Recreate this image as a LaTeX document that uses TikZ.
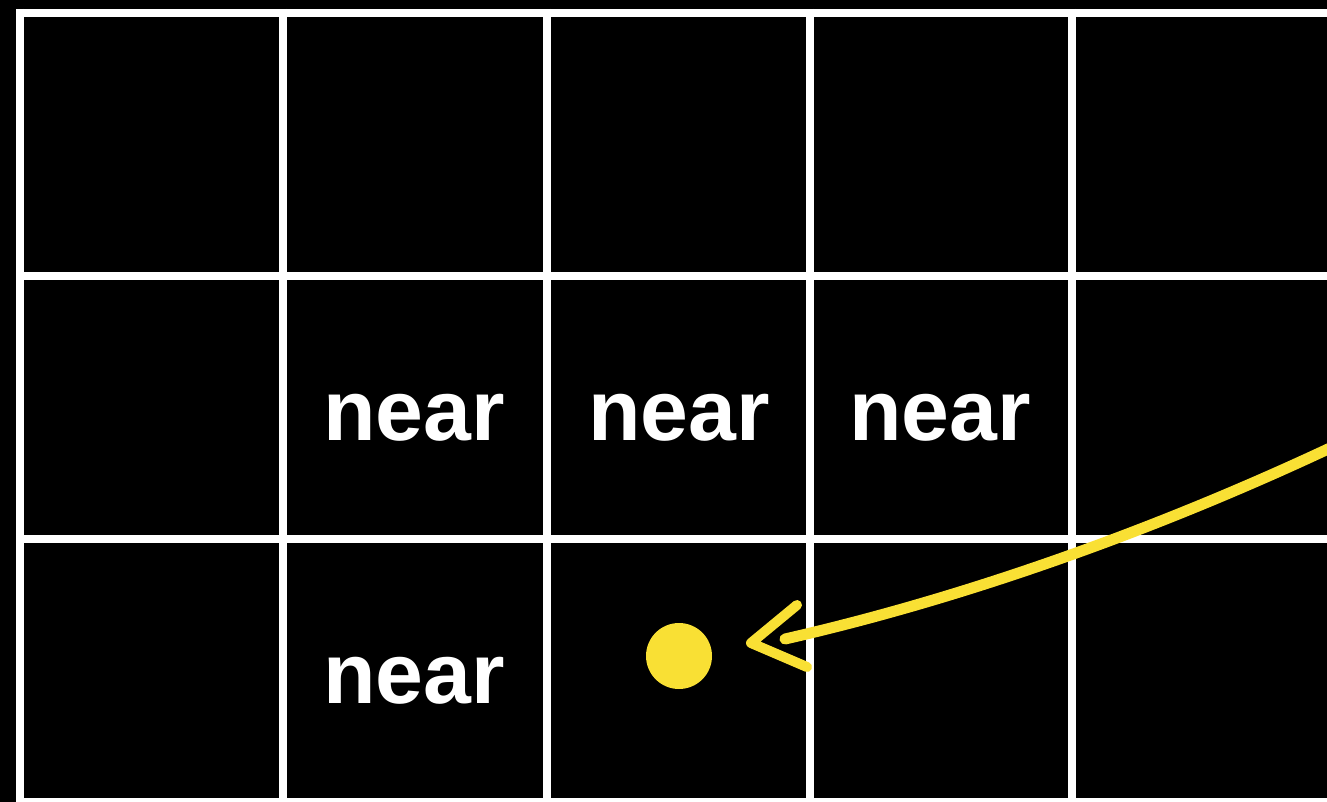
\documentclass[tikz,border=0pt]{standalone}
\usepackage{fontspec}
\setmainfont{Liberation Sans}
\definecolor{hly}{RGB}{249,224,52}
\tikzset{
  gridline/.style={white, line width=8pt},
  lbl/.style={text=white, font=\fontsize{86}{90}\selectfont\bfseries, anchor=base, inner sep=0pt},
  yel/.style={draw=hly, line width=11pt, line cap=round, line join=round},
}
\begin{document}
\begin{tikzpicture}[x=1pt,y=-1pt]
\fill[black] (0,0) rectangle (1327,802);
\useasboundingbox (0,0) rectangle (1327,802);
\begin{scope}
\clip (0,0) rectangle (1327,802);
\foreach \x in {20,283,547,810,1072,1335} \draw[gridline] (\x,9) -- (\x,806);
\foreach \y in {13,276,539,802} \draw[gridline] (16,\y) -- (1339,\y);
\node[lbl] (n1) at (414,440) {near};
\node[lbl] (n2) at (679,440) {near};
\node[lbl] (n3) at (940,440) {near};
\node[lbl] (n4) at (414,703) {near};
\node[circle, fill=hly, minimum size=66pt, inner sep=0pt] (dot) at (679,656) {};
\coordinate (from) at (1345,441);
\coordinate (tip) at (751,643);
\coordinate (to) at (785,639);
\draw[yel] (from) .. controls (1200,510) and (1000,590) .. (to);
\draw[yel, line width=10pt] (797,605) -- (tip) -- (807,667);
\end{scope}
\end{tikzpicture}
\end{document}
